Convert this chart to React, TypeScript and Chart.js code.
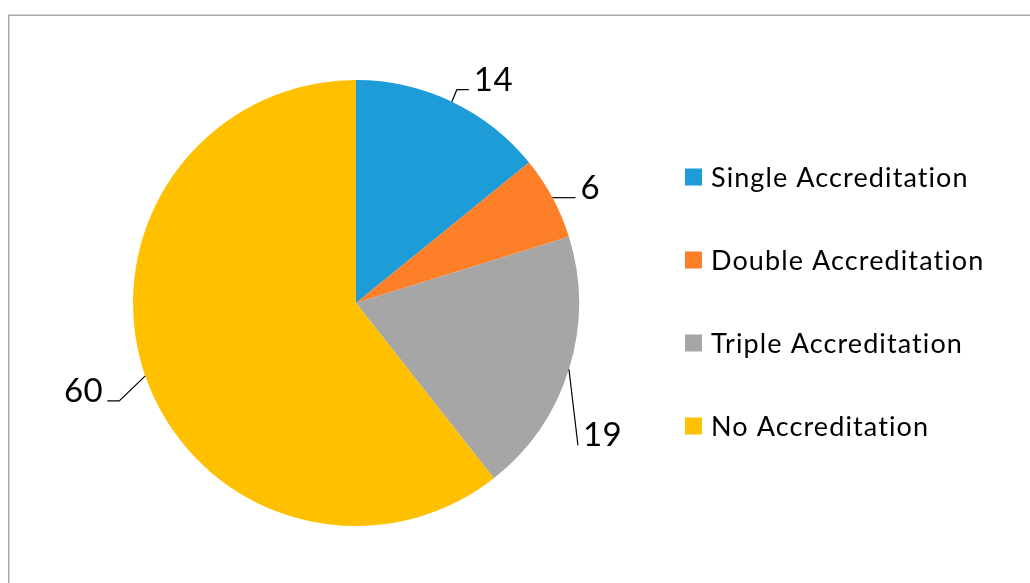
import React, { useEffect, useRef } from "react";
import { Chart, registerables } from "chart.js";

Chart.register(...registerables);

const categories = ["Single Accreditation", "Double Accreditation", "Triple Accreditation", "No Accreditation"];
const values = [14, 6, 19, 60];
const sliceColors = ["#1E9CD8", "#FD7F28", "#A6A6A6", "#FFC000"];

// leader line layout relative to the slice's mid-arc point: [elbowDx, elbowDy, endDx, endDy, side]
const labelLayout: [number, number, number, number, number][] = [
  [5, -12, 17, -12, 1],
  [12, 0, 23, 0, 1],
  [4.5, 38, 9, 76, 1],
  [-26, 25, -38, 25, -1],
];

const FONT = "Lato, 'Open Sans', sans-serif";

const decorPlugin = {
  id: "decor",
  afterDatasetsDraw(chart: any) {
    const ctx = chart.ctx;
    const meta = chart.getDatasetMeta(0);
    ctx.save();
    // frame
    ctx.strokeStyle = "#A9A9A9";
    ctx.lineWidth = 1.5;
    ctx.beginPath();
    ctx.moveTo(8.75, 700);
    ctx.lineTo(8.75, 15.25);
    ctx.lineTo(1100, 15.25);
    ctx.stroke();

    // data labels with leader lines
    meta.data.forEach((arc: any, i: number) => {
      const p = arc.getProps(["x", "y", "startAngle", "endAngle", "outerRadius"], true);
      const mid = (p.startAngle + p.endAngle) / 2;
      const ax = p.x + Math.cos(mid) * p.outerRadius;
      const ay = p.y + Math.sin(mid) * p.outerRadius;
      const [edx, edy, ndx, ndy, side] = labelLayout[i];
      ctx.strokeStyle = "#000";
      ctx.lineWidth = 1.2;
      ctx.beginPath();
      ctx.moveTo(ax, ay);
      ctx.lineTo(ax + edx, ay + edy);
      ctx.lineTo(ax + ndx, ay + ndy);
      ctx.stroke();
      ctx.fillStyle = "#000";
      ctx.font = `33px ${FONT}`;
      (ctx as any).letterSpacing = "0.5px";
      ctx.textBaseline = "alphabetic";
      ctx.textAlign = side > 0 ? "left" : "right";
      ctx.fillText(String(values[i]), ax + ndx + (side > 0 ? 5 : -4), ay + ndy + 1);
    });

    // legend
    const lx = 685;
    const ly0 = 177;
    const gap = 83;
    categories.forEach((c, i) => {
      const y = ly0 + i * gap;
      ctx.fillStyle = sliceColors[i];
      ctx.fillRect(lx, y - 8.5, 17, 17);
      ctx.fillStyle = "#000";
      ctx.font = `27px ${FONT}`;
      (ctx as any).letterSpacing = "1.1px";
      ctx.textAlign = "left";
      ctx.textBaseline = "middle";
      ctx.fillText(c, lx + 26, y + 1);
    });
    ctx.restore();
  },
};

export default function App() {
  const ref = useRef<HTMLCanvasElement>(null);
  useEffect(() => {
    if (!ref.current) return;
    const chart = new Chart(ref.current, {
      type: "pie",
      data: {
        labels: categories,
        datasets: [
          {
            data: values,
            backgroundColor: sliceColors,
            borderWidth: 0,
          },
        ],
      },
      options: {
        animation: false,
        responsive: false,
        maintainAspectRatio: false,
        layout: { padding: { left: 133, right: 451, top: 80, bottom: 57 } },
        plugins: {
          legend: { display: false },
          tooltip: { enabled: false },
        },
      },
      plugins: [decorPlugin],
    });
    return () => chart.destroy();
  }, []);
  return (
    <div style={{ position: "fixed", left: 0, top: 0, width: 1030, height: 583, background: "#fff" }}>
      <canvas ref={ref} width={1030} height={583} style={{ display: "block", width: 1030, height: 583 }} />
    </div>
  );
}
